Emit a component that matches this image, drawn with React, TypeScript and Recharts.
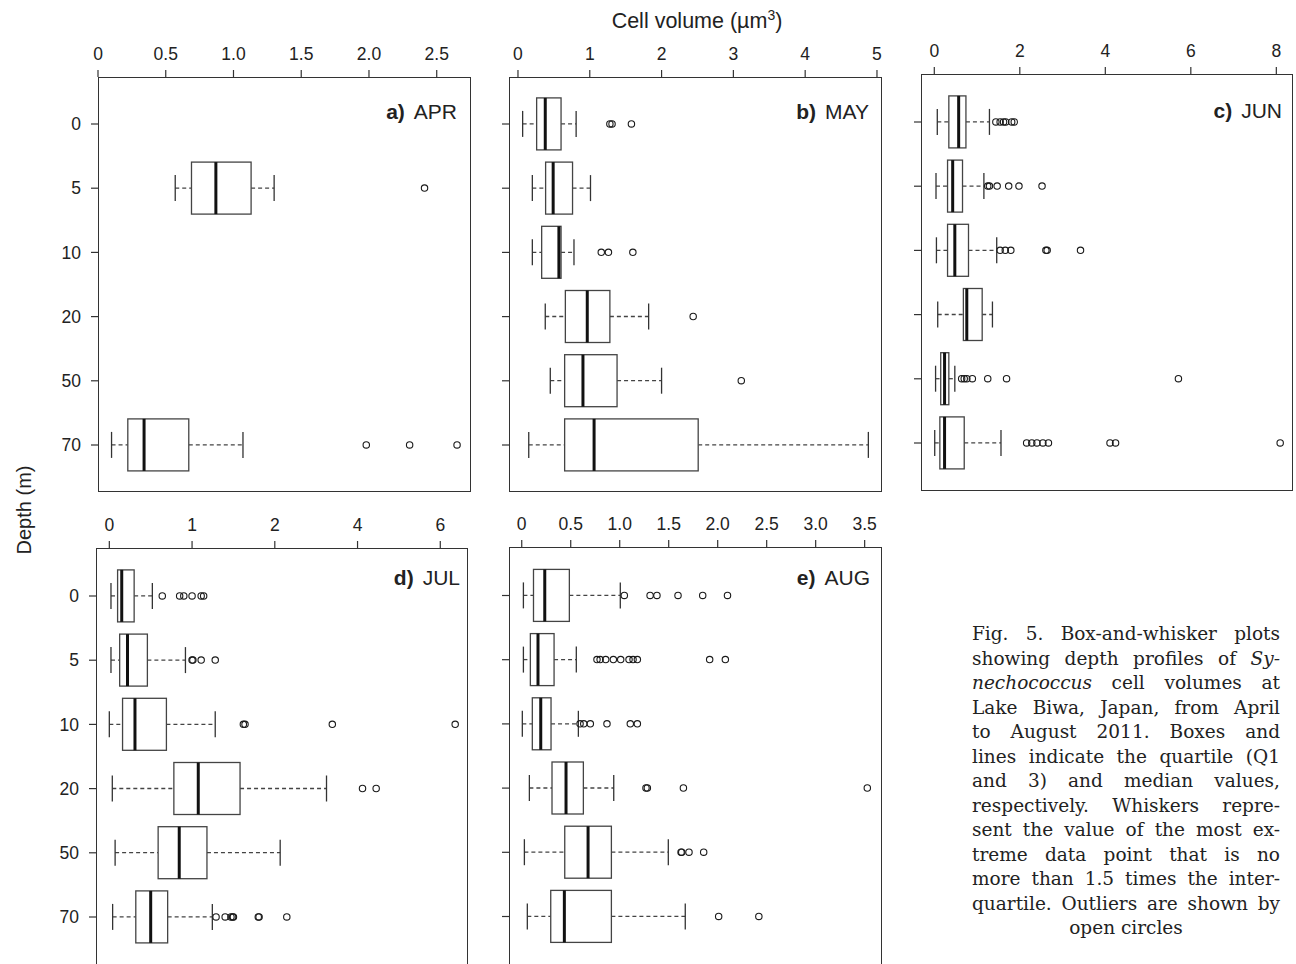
import React from "react";
import { Bar, ComposedChart, XAxis, YAxis } from "recharts";

const DEPTHS = ["0", "5", "10", "20", "50", "70"];

// each box: [whisker low, Q1, median, Q3, whisker high], null = no sample
type Box = number[] | null;

const APR_BOXES: Box[] = [
  null,
  [0.57, 0.69, 0.87, 1.13, 1.3],
  null,
  null,
  null,
  [0.1, 0.22, 0.34, 0.67, 1.07]
];
const APR_OUTLIERS: number[][] = [[], [2.41], [], [], [], [1.98, 2.3, 2.65]];

const MAY_BOXES: Box[] = [
  [0.065, 0.26, 0.38, 0.6, 0.81],
  [0.2, 0.385, 0.49, 0.76, 1.01],
  [0.2, 0.33, 0.57, 0.6, 0.78],
  [0.38, 0.66, 0.965, 1.28, 1.82],
  [0.45, 0.65, 0.905, 1.38, 2.0],
  [0.15, 0.65, 1.06, 2.51, 4.88]
];
const MAY_OUTLIERS: number[][] = [
  [1.28, 1.31, 1.58],
  [],
  [1.16, 1.26, 1.6],
  [2.44],
  [3.11],
  []
];

const JUN_BOXES: Box[] = [
  [0.07, 0.34, 0.57, 0.74, 1.29],
  [0.04, 0.31, 0.43, 0.66, 1.16],
  [0.05, 0.31, 0.48, 0.8, 1.46],
  [0.08, 0.68, 0.76, 1.12, 1.36],
  [0.03, 0.15, 0.24, 0.34, 0.48],
  [0.01, 0.13, 0.24, 0.7, 1.56]
];
const JUN_OUTLIERS: number[][] = [
  [1.44, 1.54, 1.62, 1.67, 1.81, 1.87],
  [1.25, 1.29, 1.47, 1.74, 1.98, 2.52],
  [1.54, 1.66, 1.79, 2.61, 2.64, 3.42],
  [],
  [0.64, 0.7, 0.76, 0.89, 1.25, 1.69, 5.71],
  [2.16, 2.28, 2.4, 2.54, 2.67, 4.11, 4.24, 8.09]
];

const JUL_BOXES: Box[] = [
  [0.02, 0.1, 0.15, 0.3, 0.52],
  [0.02, 0.125, 0.22, 0.46, 0.92],
  [0.0, 0.16, 0.31, 0.69, 1.28],
  [0.036, 0.78, 1.075, 1.58, 3.25],
  [0.07, 0.59, 0.845, 1.18, 2.13],
  [0.04, 0.32, 0.5, 0.705, 1.245]
];
const JUL_OUTLIERS: number[][] = [
  [0.64, 0.85, 0.9, 1.0, 1.11, 1.14],
  [1.0, 1.01, 1.11, 1.28],
  [1.62, 1.64, 3.39, 6.36],
  [4.12, 4.45],
  [],
  [1.29, 1.4, 1.47, 1.49, 1.5, 1.8, 1.81, 2.29]
];

const AUG_BOXES: Box[] = [
  [0.017, 0.12, 0.235, 0.486, 1.006],
  [0.017, 0.088, 0.166, 0.33, 0.557],
  [0.006, 0.108, 0.194, 0.299, 0.578],
  [0.078, 0.309, 0.452, 0.629, 0.939],
  [0.027, 0.439, 0.677, 0.915, 1.496],
  [0.057, 0.296, 0.435, 0.915, 1.669]
];
const AUG_OUTLIERS: number[][] = [
  [1.047, 1.31, 1.38, 1.595, 1.847, 2.1],
  [0.768, 0.8, 0.857, 0.935, 1.01, 1.095, 1.136, 1.18, 1.918, 2.078],
  [0.595, 0.633, 0.7, 0.87, 1.108, 1.18],
  [1.268, 1.282, 1.65, 3.527],
  [1.626, 1.633, 1.707, 1.857],
  [2.01, 2.42]
];

const APR_TICKS = [0, 0.5, 1, 1.5, 2, 2.5];
const MAY_TICKS = [0, 1, 2, 3, 4, 5];
const JUN_TICKS = [0, 2, 4, 6, 8];
const JUL_TICKS = [0, 1, 2, 4, 6];
const AUG_TICKS = [0, 0.5, 1, 1.5, 2, 2.5, 3, 3.5];

const CAPTION_LINES = [
  "Fig. 5. Box-and-whisker plots",
  "showing depth profiles of |Sy-",
  "|nechococcus| cell volumes at",
  "Lake Biwa, Japan, from April",
  "to August 2011. Boxes and",
  "lines indicate the quartile (Q1",
  "and 3) and median values,",
  "respectively. Whiskers repre-",
  "sent the value of the most ex-",
  "treme data point that is no",
  "more than 1.5 times the inter-",
  "quartile. Outliers are shown by"
];

const SANS = '"Liberation Sans", Arial, Helvetica, sans-serif';
const INK = "#222";
const ROW_STEP = 64.2;

// July axis is compressed above 2 (ticks 0,1,2,4,6 equally spaced)
const julyPos = (v: number) => (v <= 2 ? v : 2 + (v - 2) / 2);
const julyVal = (p: number) => (p <= 2 ? p : 2 + (p - 2) * 2);
const same = (v: number) => v;

function BoxShape(props: any) {
  const { x, y, width, height, payload } = props;
  if (!payload || !payload.box || !(width > 0)) return <g />;
  const [lo, q1, med, q3, hi] = payload.box as number[];
  const k = width / (hi - lo);
  const px = (v: number) => x + (v - lo) * k;
  const cy = y + height / 2;
  const cap = height / 4;
  return (
    <g>
      <line x1={px(lo)} x2={px(q1)} y1={cy} y2={cy} stroke="#444" strokeWidth={1.3} strokeDasharray="4 3" />
      <line x1={px(q3)} x2={px(hi)} y1={cy} y2={cy} stroke="#444" strokeWidth={1.3} strokeDasharray="4 3" />
      <line x1={px(lo)} x2={px(lo)} y1={cy - cap} y2={cy + cap} stroke="#333" strokeWidth={1.3} />
      <line x1={px(hi)} x2={px(hi)} y1={cy - cap} y2={cy + cap} stroke="#333" strokeWidth={1.3} />
      <rect x={px(q1)} y={y} width={px(q3) - px(q1)} height={height} fill="#fff" stroke="#444" strokeWidth={1.3} />
      <line x1={px(med)} x2={px(med)} y1={y} y2={y + height} stroke="#111" strokeWidth={3} />
      {(payload.outliers as number[]).map((v, i) => (
        <circle key={i} cx={px(v)} cy={cy} r={3.2} fill="none" stroke="#1a1a1a" strokeWidth={1.1} />
      ))}
    </g>
  );
}

interface PanelProps {
  left: number;
  top: number;
  width: number;
  height: number;
  boxes: Box[];
  outliers: number[][];
  ticks: number[];
  domain: [number, number];
  toPos?: (v: number) => number;
  fromPos?: (p: number) => number;
  decimals?: boolean;
  depthLabels?: boolean;
}

function Panel({
  left,
  top,
  width,
  height,
  boxes,
  outliers,
  ticks,
  domain,
  toPos = same,
  fromPos = same,
  decimals,
  depthLabels
}: PanelProps) {
  const yW = depthLabels ? 60 : 10;
  const xH = 40;
  const pad = (height - DEPTHS.length * ROW_STEP) / 2;
  const rows = DEPTHS.map((depth, i) => {
    const b = boxes[i];
    return {
      depth,
      range: b ? [toPos(b[0]), toPos(b[4])] : undefined,
      box: b ? b.map(toPos) : null,
      outliers: outliers[i].map(toPos)
    };
  });
  const fmt = (p: number) => {
    const v = Math.round(fromPos(p) * 10) / 10;
    if (v === 0) return "0";
    return decimals ? v.toFixed(1) : String(v);
  };
  return (
    <div style={{ position: "absolute", left: left - yW, top: top - xH }}>
      <ComposedChart
        layout="vertical"
        width={yW + width}
        height={xH + height}
        data={rows}
        margin={{ top: 0, right: 0, bottom: 0, left: 0 }}
        style={{ fontFamily: SANS }}
      >
        <XAxis
          type="number"
          orientation="top"
          height={xH}
          domain={domain}
          allowDataOverflow
          ticks={ticks.map(toPos)}
          interval={0}
          tickFormatter={fmt}
          axisLine={false}
          tickLine={{ stroke: "#333", strokeWidth: 1.2 }}
          tickSize={7}
          tickMargin={10}
          tick={{ fontSize: 17.5, fill: INK }}
        />
        <YAxis
          type="category"
          dataKey="depth"
          width={yW}
          padding={{ top: pad, bottom: pad }}
          interval={0}
          axisLine={false}
          tickLine={{ stroke: "#333", strokeWidth: 1.2 }}
          tickSize={7}
          tickMargin={10}
          tickFormatter={(d: string) => (depthLabels ? d : "")}
          tick={{ fontSize: 17.5, fill: INK }}
        />
        <Bar dataKey="range" barSize={52} shape={BoxShape} isAnimationActive={false} />
      </ComposedChart>
      <div
        style={{
          position: "absolute",
          left: yW,
          top: xH,
          width,
          height,
          boxSizing: "border-box",
          border: "1.3px solid #333",
          pointerEvents: "none"
        }}
      />
    </div>
  );
}

function PanelLabel({ x, y, tag, month }: { x: number; y: number; tag: string; month: string }) {
  return (
    <text x={x} y={y} textAnchor="end" fontSize={21} fill={INK} fontFamily={SANS}>
      <tspan fontWeight="bold">{tag}</tspan>
      <tspan dx={9}>{month}</tspan>
    </text>
  );
}

function captionLine(line: string, i: number) {
  const parts = line.split("|");
  return (
    <div key={i} style={{ textAlign: "justify", textAlignLast: "justify", whiteSpace: "nowrap" }}>
      {parts.map((p, j) => (j % 2 === 1 ? <i key={j}>{p}</i> : <span key={j}>{p}</span>))}
    </div>
  );
}

export default function App() {
  return (
    <div
      style={{
        position: "absolute",
        left: 0,
        top: 0,
        width: 1296,
        height: 964,
        overflow: "hidden",
        background: "#fff"
      }}
    >
      <Panel left={98} top={77} width={373} height={415} boxes={APR_BOXES} outliers={APR_OUTLIERS}
        ticks={APR_TICKS} domain={[0, 2.753]} decimals depthLabels />
      <Panel left={509} top={77} width={373} height={415} boxes={MAY_BOXES} outliers={MAY_OUTLIERS}
        ticks={MAY_TICKS} domain={[-0.125, 5.07]} />
      <Panel left={921} top={74} width={372} height={417} boxes={JUN_BOXES} outliers={JUN_OUTLIERS}
        ticks={JUN_TICKS} domain={[-0.311, 8.39]} />
      <Panel left={96} top={548} width={372} height={417} boxes={JUL_BOXES} outliers={JUL_OUTLIERS}
        ticks={JUL_TICKS} domain={[-0.161, 4.335]} toPos={julyPos} fromPos={julyVal} depthLabels />
      <Panel left={509} top={547} width={373} height={418} boxes={AUG_BOXES} outliers={AUG_OUTLIERS}
        ticks={AUG_TICKS} domain={[-0.13, 3.677]} decimals />

      <svg
        width={1296}
        height={964}
        style={{ position: "absolute", left: 0, top: 0, pointerEvents: "none" }}
      >
        <text x={697} y={28} textAnchor="middle" fontSize={21.5} fill={INK} fontFamily={SANS}>
          Cell volume (µm<tspan dy={-8} fontSize={14}>3</tspan>
          <tspan dy={8}>)</tspan>
        </text>
        <text
          x={0}
          y={0}
          transform="translate(31,510) rotate(-90)"
          textAnchor="middle"
          fontSize={20}
          fill={INK}
          fontFamily={SANS}
        >
          Depth (m)
        </text>
        <PanelLabel x={457} y={119} tag="a)" month="APR" />
        <PanelLabel x={869} y={119} tag="b)" month="MAY" />
        <PanelLabel x={1282} y={118} tag="c)" month="JUN" />
        <PanelLabel x={460} y={585} tag="d)" month="JUL" />
        <PanelLabel x={870} y={585} tag="e)" month="AUG" />
      </svg>

      <div
        style={{
          position: "absolute",
          left: 972,
          top: 622,
          width: 308,
          fontFamily: '"DejaVu Serif", serif',
          fontSize: 18.5,
          lineHeight: "24.5px",
          color: INK
        }}
      >
        {CAPTION_LINES.map(captionLine)}
        <div style={{ textAlign: "center" }}>open circles</div>
      </div>
    </div>
  );
}
